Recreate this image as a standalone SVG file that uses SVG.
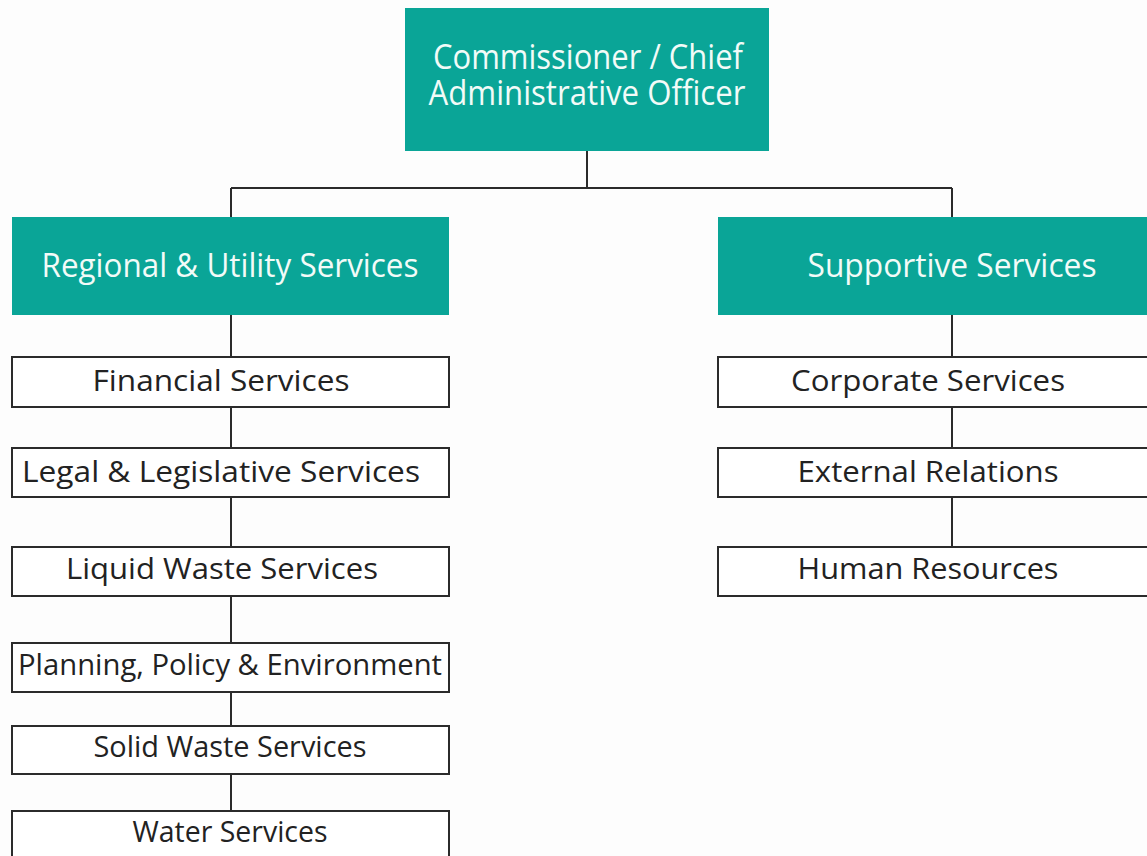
<svg xmlns="http://www.w3.org/2000/svg" width="1147" height="856" viewBox="0 0 1147 856">
<style>
.teal{fill:#0aa597}
.box{fill:#ffffff;stroke:#2b2b2b;stroke-width:2}
.lbl{font-family:"Open Sans","Noto Sans",sans-serif;text-anchor:middle;fill:#222222;font-size:30px}
.wl{font-family:"Open Sans","Noto Sans",sans-serif;text-anchor:middle;fill:#f2fbf8;font-size:33px}
.tl{font-size:35px}
.conn{stroke:#2b2b2b;stroke-width:2;fill:none}
</style>
<rect x="0" y="0" width="1147" height="856" fill="#fdfdfd"/>
<g id="connectors">
<path class="conn" d="M587 151V188M231 188H952M231 188V217M952 188V217"/>
<path class="conn" d="M231 315V357M231 407V448M231 497V547M231 596V643M231 692V726M231 774V811"/>
<path class="conn" d="M952 315V357M952 407V448M952 497V547"/>
</g>
<g id="n-commissioner">
<rect class="teal" x="405" y="8" width="364" height="143"/>
<text class="wl tl"><tspan x="588" y="69" textLength="310" lengthAdjust="spacingAndGlyphs">Commissioner / Chief</tspan><tspan x="587" y="105" textLength="317" lengthAdjust="spacingAndGlyphs">Administrative Officer</tspan></text>
</g>
<g id="n-regional">
<rect class="teal" x="12" y="217" width="437" height="98"/>
<text class="wl" x="230" y="277" textLength="377" lengthAdjust="spacingAndGlyphs">Regional &amp; Utility Services</text>
</g>
<g id="n-supportive">
<rect class="teal" x="718" y="217" width="440" height="98"/>
<text class="wl" x="952" y="277" textLength="289" lengthAdjust="spacingAndGlyphs">Supportive Services</text>
</g>
<g id="n-financial">
<rect class="box" x="12" y="357" width="437" height="50"/>
<text class="lbl" x="221" y="391" textLength="257" lengthAdjust="spacingAndGlyphs">Financial Services</text>
</g>
<g id="n-legal">
<rect class="box" x="12" y="448" width="437" height="49"/>
<text class="lbl" x="221" y="482" textLength="398" lengthAdjust="spacingAndGlyphs">Legal &amp; Legislative Services</text>
</g>
<g id="n-liquid">
<rect class="box" x="12" y="547" width="437" height="49"/>
<text class="lbl" x="222" y="579" textLength="312" lengthAdjust="spacingAndGlyphs">Liquid Waste Services</text>
</g>
<g id="n-planning">
<rect class="box" x="12" y="643" width="437" height="49"/>
<text class="lbl" x="230" y="675" textLength="424" lengthAdjust="spacingAndGlyphs">Planning, Policy &amp; Environment</text>
</g>
<g id="n-solid">
<rect class="box" x="12" y="726" width="437" height="48"/>
<text class="lbl" x="230" y="757" textLength="273" lengthAdjust="spacingAndGlyphs">Solid Waste Services</text>
</g>
<g id="n-water">
<rect class="box" x="12" y="811" width="437" height="60"/>
<text class="lbl" x="230" y="842" textLength="195" lengthAdjust="spacingAndGlyphs">Water Services</text>
</g>
<g id="n-corporate">
<rect class="box" x="718" y="357" width="440" height="50"/>
<text class="lbl" x="928" y="391" textLength="274" lengthAdjust="spacingAndGlyphs">Corporate Services</text>
</g>
<g id="n-external">
<rect class="box" x="718" y="448" width="440" height="49"/>
<text class="lbl" x="928" y="482" textLength="261" lengthAdjust="spacingAndGlyphs">External Relations</text>
</g>
<g id="n-human">
<rect class="box" x="718" y="547" width="440" height="49"/>
<text class="lbl" x="928" y="579" textLength="261" lengthAdjust="spacingAndGlyphs">Human Resources</text>
</g>
</svg>
